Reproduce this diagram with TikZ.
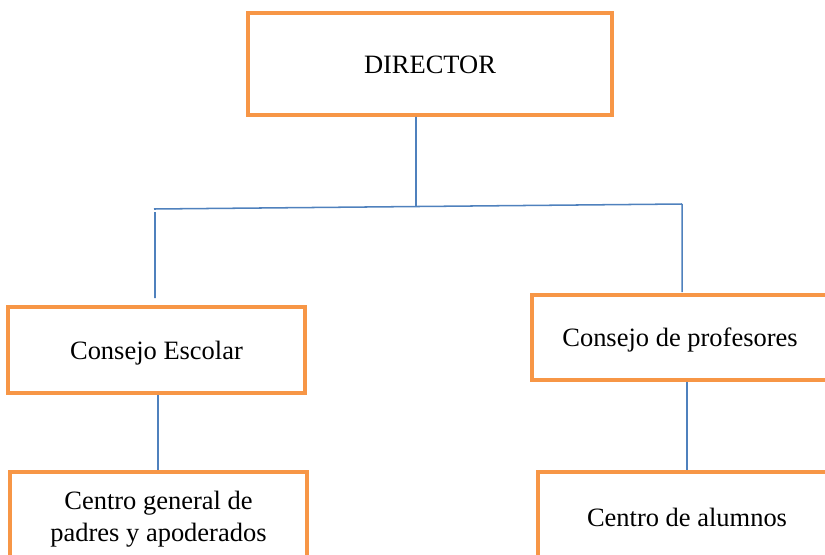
\documentclass[tikz,border=0pt]{standalone}
\usepackage{fontspec}
\setmainfont{Liberation Serif}
\usepackage{tikz}
\usepackage{xcolor}
\usetikzlibrary{shapes, positioning, calc}

\definecolor{boxorange}{HTML}{F79646}
\definecolor{lineblue}{HTML}{4F81BD}

\tikzset{
    orgbox/.style={rectangle, draw=boxorange, line width=3pt, fill=white,
        align=center, inner sep=0pt, font=\fontsize{22.6}{27}\selectfont},
    oneline/.style={text height=20.3pt, text depth=4.5pt},
    conn/.style={draw=lineblue, line width=1.3pt}
}

\begin{document}
\begin{tikzpicture}[x=0.03cm, y=-0.03cm]
        \useasboundingbox (0,0) rectangle (825,554);
        \clip (0,0) rectangle (825,554);

        \node[orgbox, oneline, minimum width=364*0.03cm, minimum height=102*0.03cm] at (430, 64) (dir) {DIRECTOR};
        \node[orgbox, oneline, minimum width=297*0.03cm, minimum height=86*0.03cm] at (156.5, 350) (ce) {Consejo Escolar};
        \node[orgbox, oneline, minimum width=296*0.03cm, minimum height=85*0.03cm] at (680, 337.5) (cp) {Consejo de profesores};
        \node[orgbox, minimum width=297*0.03cm, minimum height=94*0.03cm] at (158.5, 519) (cg) {Centro general de\\padres y apoderados};
        \node[orgbox, oneline, minimum width=298*0.03cm, minimum height=90*0.03cm] at (687, 517) (ca) {Centro de alumnos};

        \coordinate (hub) at (416, 206.5);
        \coordinate (jl) at (154, 209);
        \coordinate (jr) at (682, 204);
        \coordinate (cl) at (155, 212);
        \coordinate (clend) at (155, 298);
        \coordinate (crend) at (682, 292);

        \draw[conn] (dir.south -| hub) -- (hub)
            (jl) -- (jr)
            (cl) -- (clend)
            (jr) -- (crend);
        \draw[conn] (158, 0 |- ce.south) -- (158, 0 |- cg.north);
        \draw[conn] (687, 0 |- cp.south) -- (687, 0 |- ca.north);
    \end{tikzpicture}
\end{document}
